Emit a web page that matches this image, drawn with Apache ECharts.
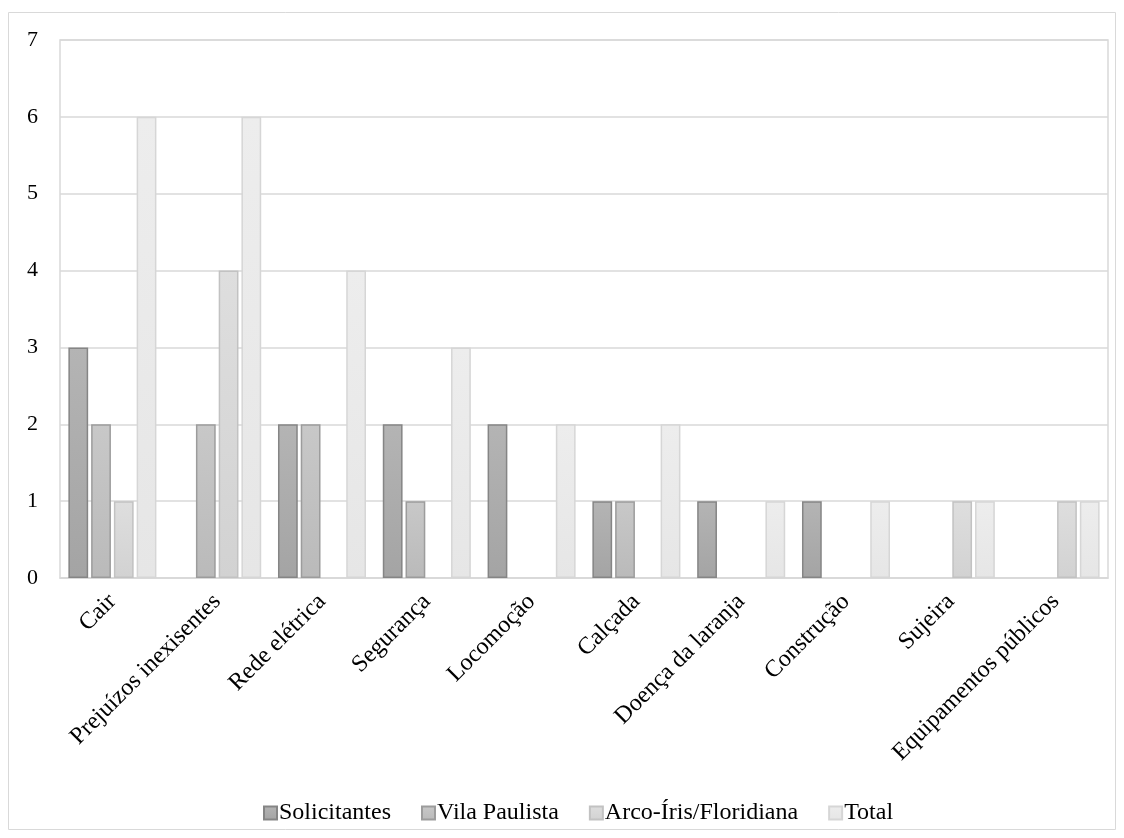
<!DOCTYPE html>
<html><head><meta charset="utf-8">
<script src="https://cdn.jsdelivr.net/npm/echarts@6/dist/echarts.min.js"></script>
<style>html,body{margin:0;padding:0;background:#fff}#c{width:1124px;height:838px}</style>
</head><body><div id="c"></div>
<script>
const categories = ["Cair","Prejuízos inexisentes","Rede elétrica","Segurança","Locomoção","Calçada","Doença da laranja","Construção","Sujeira","Equipamentos públicos"];
const seriesNames = ["Solicitantes","Vila Paulista","Arco-Íris/Floridiana","Total"];
const solicitantes = [3,0,2,2,2,1,1,1,0,0];
const vilaPaulista = [2,2,2,1,0,1,0,0,0,0];
const arcoIris = [1,4,0,0,0,0,0,0,1,1];
const total = [6,6,4,3,2,2,1,1,1,1];
const values = [solicitantes, vilaPaulista, arcoIris, total];

const fills = [["#b4b4b4","#a4a4a4"],["#c8c8c8","#bababa"],["#dedede","#d2d2d2"],["#ededed","#e6e6e6"]];
const borders = ["#858585","#9c9c9c","#c2c2c2","#d6d6d6"];
const font = "'Liberation Serif','Times New Roman',serif";

const chart = echarts.init(document.getElementById('c'));
chart.setOption({
  animation:false,
  textStyle:{fontFamily:font},
  graphic:[{type:'rect',shape:{x:8.5,y:12.5,width:1107,height:817},style:{fill:'none',stroke:'#d9d9d9',lineWidth:1},z:-1}],
  grid:{left:60,right:16,top:40,bottom:260,show:true,borderColor:'#d9d9d9',borderWidth:1.5},
  legend:{top:796,left:258,itemWidth:13,itemHeight:13,itemGap:30,icon:'rect',
    textStyle:{fontFamily:font,fontSize:24,color:'#000',padding:[0,0,0,-3]},
    data:seriesNames},
  xAxis:{type:'category',data:categories,
    axisLine:{lineStyle:{color:'#d9d9d9',width:1.5}},axisTick:{show:false},
    axisLabel:{rotate:45,interval:0,fontFamily:font,fontSize:24,color:'#000',margin:20}},
  yAxis:{type:'value',min:0,max:7,interval:1,
    axisLine:{show:false},axisTick:{show:false},
    splitLine:{lineStyle:{color:'#d9d9d9',width:1.5}},
    axisLabel:{fontFamily:font,fontSize:22,color:'#000',margin:22}},
  series: seriesNames.map((n,i)=>({
    name:n,type:'bar',data:values[i].map(v=>v===0?null:v),barGap:'15%',barCategoryGap:'16%',
    itemStyle:{color:new echarts.graphic.LinearGradient(0,0,0,1,[{offset:0,color:fills[i][0]},{offset:1,color:fills[i][1]}]),
      borderColor:borders[i],borderWidth:1.5}
  }))
});
</script></body></html>
